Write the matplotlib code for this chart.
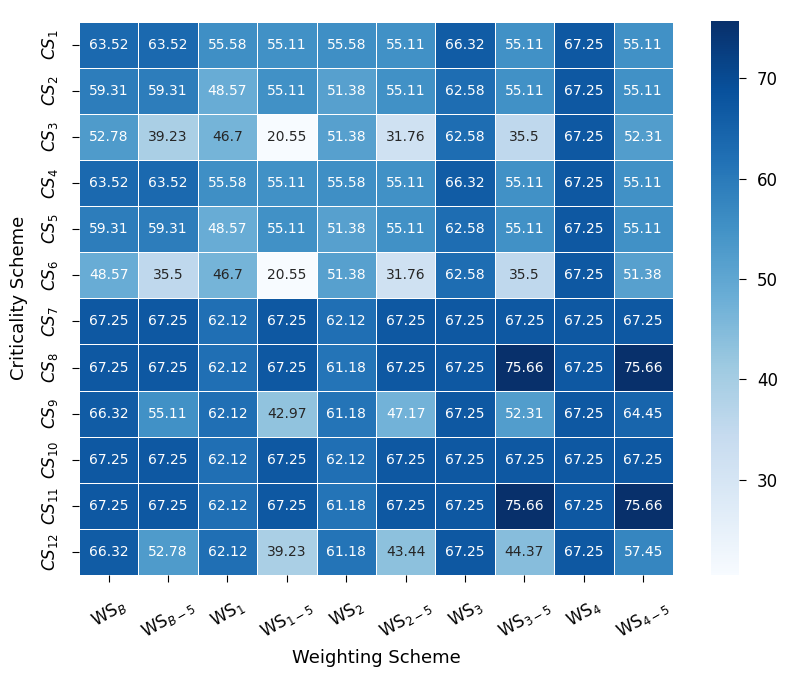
import numpy as np
import pandas as pd
import matplotlib
matplotlib.use("Agg")
import matplotlib.pyplot as plt
import seaborn as sns

# Row / column labels
row_labels = [r"$CS_{%d}$" % i for i in range(1, 13)]
col_labels = [r"$\mathrm{WS}_{B}$", r"$\mathrm{WS}_{B-5}$", r"$\mathrm{WS}_{1}$", r"$\mathrm{WS}_{1-5}$",
              r"$\mathrm{WS}_{2}$", r"$\mathrm{WS}_{2-5}$", r"$\mathrm{WS}_{3}$", r"$\mathrm{WS}_{3-5}$",
              r"$\mathrm{WS}_{4}$", r"$\mathrm{WS}_{4-5}$"]

# Values per criticality scheme
cs1 = [63.52, 63.52, 55.58, 55.11, 55.58, 55.11, 66.32, 55.11, 67.25, 55.11]
cs2 = [59.31, 59.31, 48.57, 55.11, 51.38, 55.11, 62.58, 55.11, 67.25, 55.11]
cs3 = [52.78, 39.23, 46.7, 20.55, 51.38, 31.76, 62.58, 35.5, 67.25, 52.31]
cs4 = [63.52, 63.52, 55.58, 55.11, 55.58, 55.11, 66.32, 55.11, 67.25, 55.11]
cs5 = [59.31, 59.31, 48.57, 55.11, 51.38, 55.11, 62.58, 55.11, 67.25, 55.11]
cs6 = [48.57, 35.5, 46.7, 20.55, 51.38, 31.76, 62.58, 35.5, 67.25, 51.38]
cs7 = [67.25, 67.25, 62.12, 67.25, 62.12, 67.25, 67.25, 67.25, 67.25, 67.25]
cs8 = [67.25, 67.25, 62.12, 67.25, 61.18, 67.25, 67.25, 75.66, 67.25, 75.66]
cs9 = [66.32, 55.11, 62.12, 42.97, 61.18, 47.17, 67.25, 52.31, 67.25, 64.45]
cs10 = [67.25, 67.25, 62.12, 67.25, 62.12, 67.25, 67.25, 67.25, 67.25, 67.25]
cs11 = [67.25, 67.25, 62.12, 67.25, 61.18, 67.25, 67.25, 75.66, 67.25, 75.66]
cs12 = [66.32, 52.78, 62.12, 39.23, 61.18, 43.44, 67.25, 44.37, 67.25, 57.45]

data = pd.DataFrame([cs1, cs2, cs3, cs4, cs5, cs6, cs7, cs8, cs9, cs10, cs11, cs12],
                    index=row_labels, columns=col_labels)

fig = plt.figure(figsize=(7.94, 6.82), dpi=100)
ax = fig.add_axes([0.0995, 0.157, 0.748, 0.811])
cax = fig.add_axes([0.8955, 0.157, 0.0353, 0.812])

sns.heatmap(data, ax=ax, cbar_ax=cax, cmap="Blues", annot=True, fmt="g",
            annot_kws={"size": 10}, linewidths=0.5, linecolor="white")

ax.set_xticklabels(col_labels, rotation=30, fontsize=12)
ax.set_yticklabels(row_labels, rotation=90, va="center", fontsize=12)
ax.tick_params(axis="x", pad=10, length=5)
ax.tick_params(axis="y", pad=9, length=5)
ax.set_xlabel("Weighting Scheme", fontsize=13, labelpad=5)
ax.set_ylabel("Criticality Scheme", fontsize=13, labelpad=8)
cax.tick_params(labelsize=12, length=5, pad=8)

fig.savefig("out.png", dpi=100)
